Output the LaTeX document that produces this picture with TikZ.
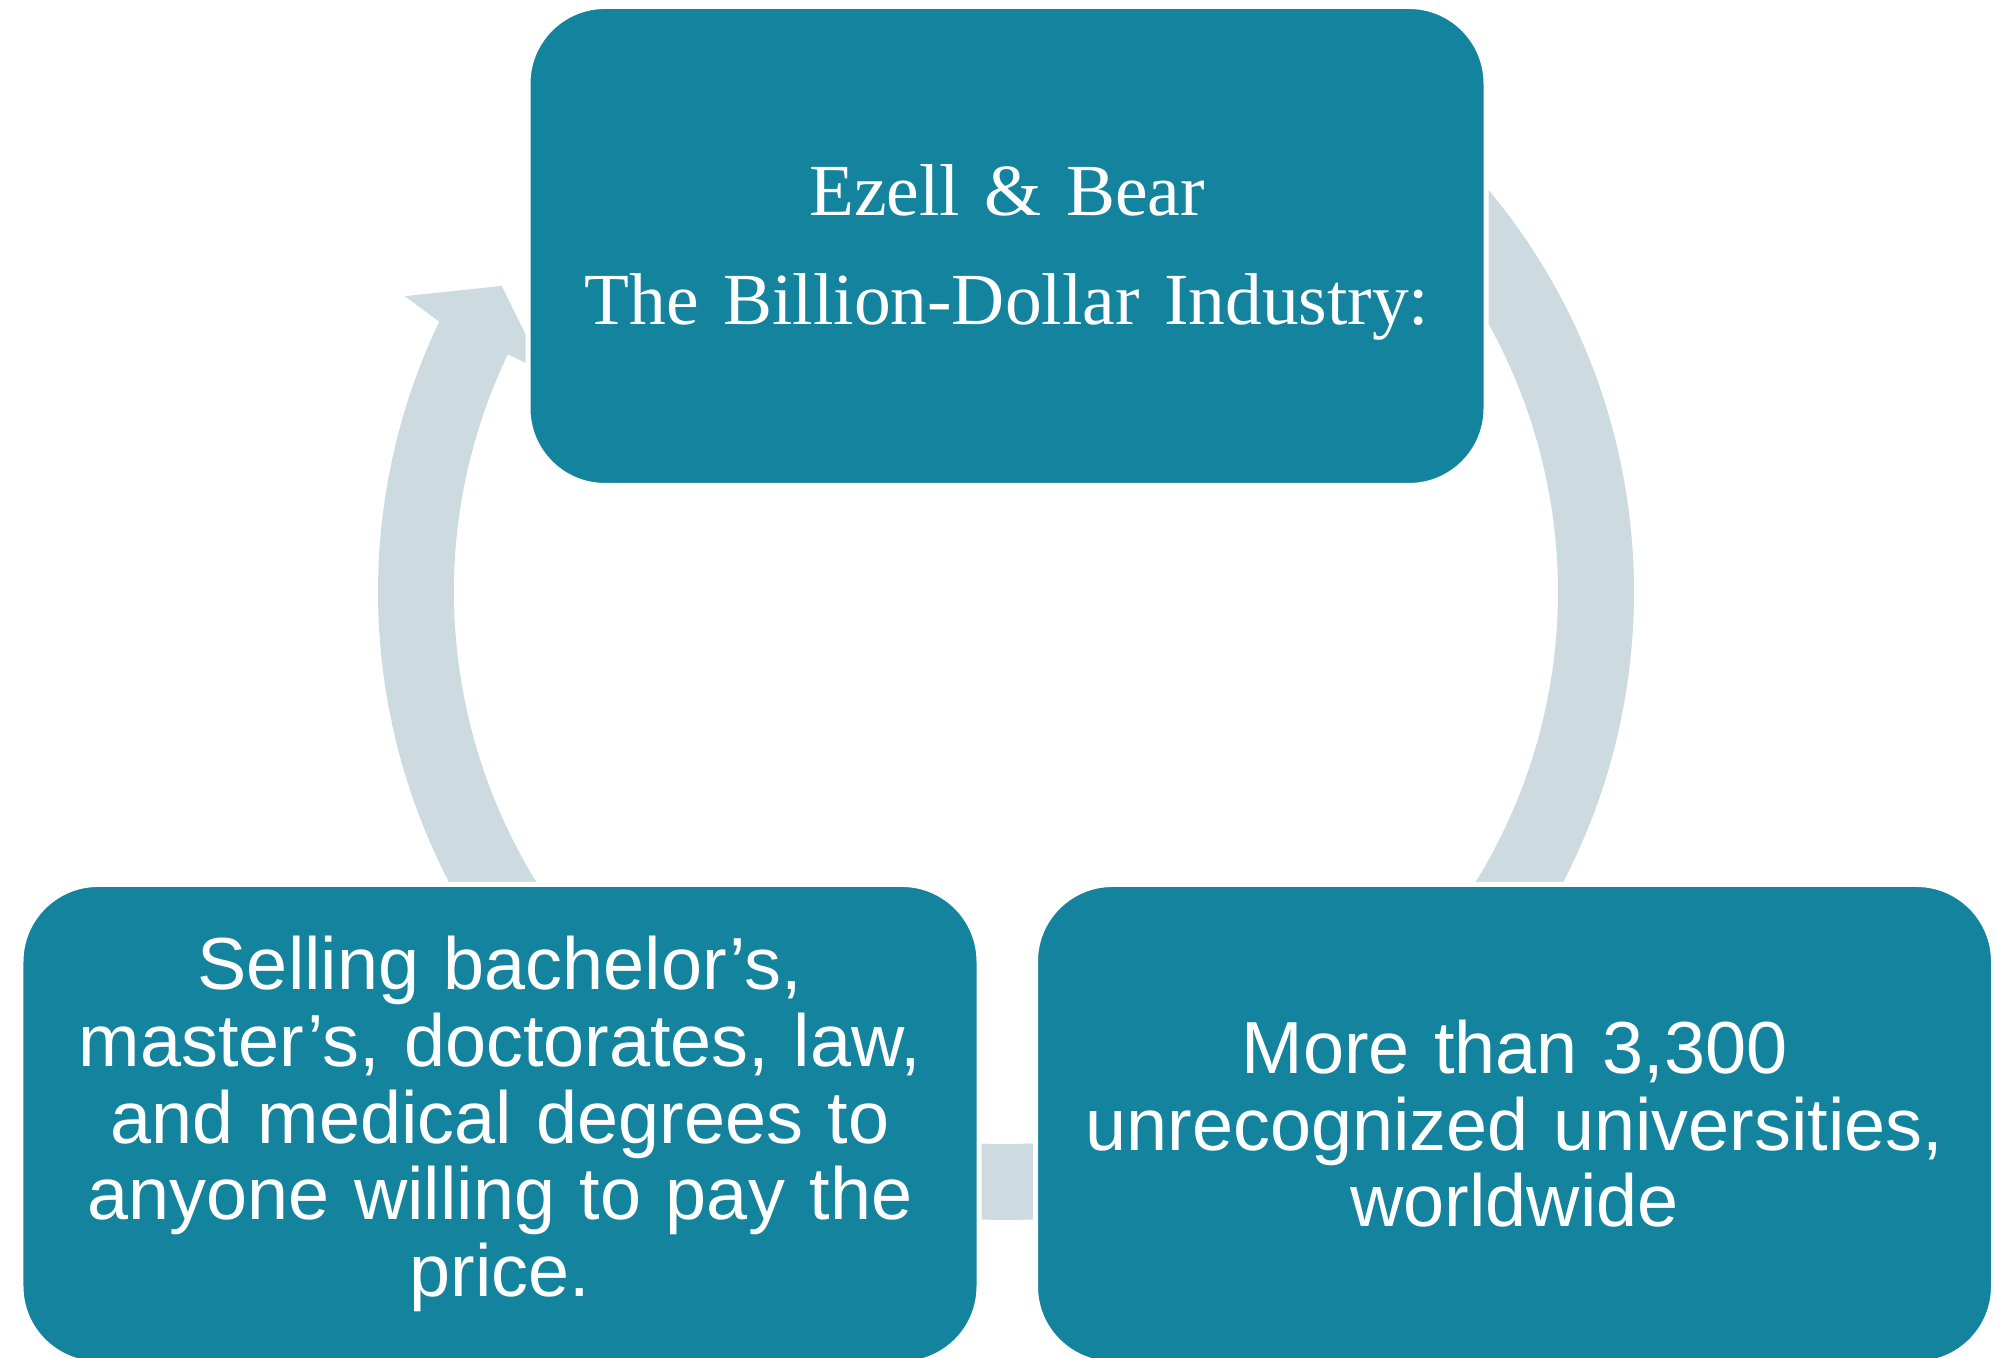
\documentclass[tikz,border=0pt]{standalone}
\usepackage{fontspec}
\setmainfont{Liberation Serif}
\setsansfont{Liberation Sans}

\definecolor{boxteal}{RGB}{20,131,158}
\definecolor{ringgrey}{RGB}{205,218,224}

\begin{document}
\begin{tikzpicture}[
    box/.style={fill=boxteal, draw=white, line width=0.05cm, rounded corners=0.77cm,
      minimum width=9.58cm, minimum height=4.79cm, inner sep=0pt,
      text=white, text width=9.2cm, align=center},
    sanstext/.style={font=\sffamily\fontsize{21}{21.8}\selectfont},
    seriftext/.style={font=\rmfamily\fontsize{20.9}{31}\selectfont}
  ]
  \useasboundingbox (0,0) rectangle (20.05,13.58);
  \clip (0,0) rectangle (20.05,13.58);

  % Ring
  \coordinate (c) at (10.06,7.66);
  \fill[ringgrey, shift={(c)}] (45:6.28) arc[start angle=45, end angle=-205.5, radius=6.28]
    -- (-206.2:6.7) -- (-211.25:5.9) -- (-205.5:5.12) -- (-205.5:5.52)
    arc[start angle=-205.5, end angle=45, radius=5.52] -- cycle;

  % Nodes
  \node[box, seriftext] (industry) at (10.07,11.12) {\rule{0pt}{0.63cm}Ezell \& Bear\\The Billion-Dollar Industry:};
  \node[box, sanstext] (selling) at (5.00,2.34) {Selling bachelor’s,\\master’s, doctorates, law,\\and medical degrees to\\anyone willing to pay the\\price.};
  \node[box, sanstext] (unis) at (15.145,2.34) {More than 3,300\\unrecognized universities,\\worldwide};
\end{tikzpicture}
\end{document}
